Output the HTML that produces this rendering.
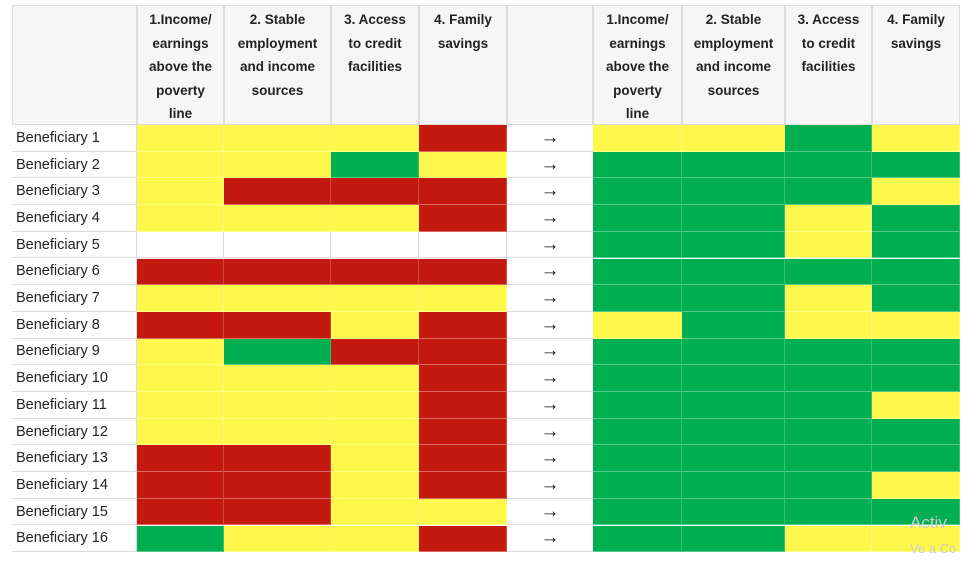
<!DOCTYPE html>
<html><head><meta charset="utf-8"><style>
body{margin:0;width:975px;height:563px;background:#fff;position:relative;overflow:hidden;font-family:"Liberation Sans",sans-serif;}
.c{position:absolute;box-sizing:border-box;}
.h{background:#f6f6f6;border:1px solid #dcdcdc;font-weight:bold;font-size:13.5px;line-height:23.5px;text-align:center;color:#222;padding-top:2px;}
.l{font-size:14.5px;color:#222;padding-left:4px;border-bottom:1px solid #dcdcdc;border-right:1px solid #dcdcdc;display:flex;align-items:center;}
.a{font-size:19px;font-weight:bold;color:#111;text-align:center;border-bottom:1px solid #dcdcdc;display:flex;align-items:center;justify-content:center;}
.wm{position:absolute;color:#ccc;font-size:17px;}
</style></head><body>
<div id="t"></div>
<div class="wm" style="left:910px;top:513px;">Activ</div>
<div class="wm" style="left:910px;top:541px;font-size:13px;">Ve a Co</div>
<script>
const headers=["1.Income/<br>earnings<br>above the<br>poverty<br>line","2. Stable<br>employment<br>and income<br>sources","3. Access<br>to credit<br>facilities","4. Family<br>savings"];
const rowLabels=["Beneficiary 1","Beneficiary 2","Beneficiary 3","Beneficiary 4","Beneficiary 5","Beneficiary 6","Beneficiary 7","Beneficiary 8","Beneficiary 9","Beneficiary 10","Beneficiary 11","Beneficiary 12","Beneficiary 13","Beneficiary 14","Beneficiary 15","Beneficiary 16"];
const before=["YYYR","YYGY","YRRR","YYYR","WWWW","RRRR","YYYY","RRYR","YGRR","YYYR","YYYR","YYYR","RRYR","RRYR","RRYY","GYYR"];
const after=["YYGY","GGGG","GGGY","GGYG","GGYG","GGGG","GGYG","YGYY","GGGG","GGGG","GGGY","GGGG","GGGG","GGGY","GGGG","GGYY"];
const colors={Y:"#fef84c",R:"#c3190f",G:"#00b050",W:"#ffffff"};
const leftX=[137,224,331,419,507],rightX=[593,682,785,872,960];
const top0=125,rowH=26.7,labelX=12,arrowX=[507,593];
const t=document.getElementById('t');
function div(cls,x,y,w,h,html){const d=document.createElement('div');d.className='c '+cls;d.style.left=x+'px';d.style.top=y+'px';d.style.width=w+'px';d.style.height=h+'px';if(html!==undefined)d.innerHTML=html;t.appendChild(d);return d;}
let e=div('h',labelX,5,125,120,'');


e=div('h',arrowX[0],5,86,120,'');


[leftX,rightX].forEach((xs,s)=>{headers.forEach((hd,i)=>{
 const d=div('h',xs[i],5,xs[i+1]-xs[i],120,hd);
 
 
});});
rowLabels.forEach((lab,r)=>{
 const y=top0+r*rowH;
 const l=div('l',labelX,y,125,rowH,lab);
 
 
 const a=div('a',arrowX[0],y,86,rowH,'→');
 
 
 [[before,leftX,'before'],[after,rightX,'after']].forEach(([data,xs,nm])=>{
  for(let i=0;i<4;i++){
   const k=data[r][i];
   const c=div('',xs[i],y,xs[i+1]-xs[i],rowH);
   c.style.background=colors[k];
   c.style.borderBottom='1px solid '+(k==='W'?'#dcdcdc':'rgba(255,255,255,0.35)');
   c.style.borderRight='1px solid '+(k==='W'?'#dcdcdc':'rgba(255,255,255,0.2)');
   
   
  }
 });
});
</script>
</body></html>
